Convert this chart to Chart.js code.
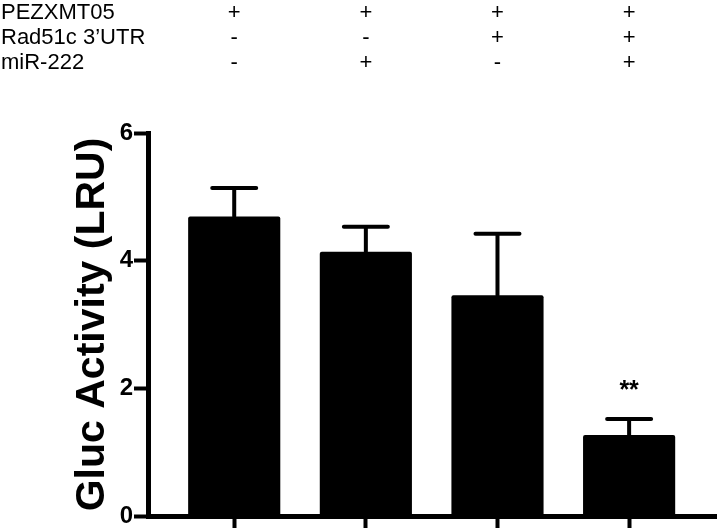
<!DOCTYPE html>
<html>
<head>
<meta charset="utf-8">
<script src="https://cdn.jsdelivr.net/npm/chart.js@4"></script>
<style>
	body { margin: 0; background: #fff; }
	#chart_canvas { display: block; }
</style>
</head>
<body>
<canvas id="chart_canvas" width="720" height="532"></canvas>
<script>
// groups (x positions of bars)
const groups = [0, 1, 2, 3];
const means = [4.69, 4.14, 3.46, 1.27];
const errors = [0.45, 0.39, 0.96, 0.25];
const marks = ['', '', '', '**'];

// treatment table on top
const rowLabels = ['PEZXMT05', 'Rad51c 3\u2019UTR', 'miR-222'];
const rowSigns = [
	['+', '+', '+', '+'],
	['-', '-', '+', '+'],
	['-', '+', '-', '+']
];

const yTicks = [0, 2, 4, 6];

const ctx = document.getElementById('chart_canvas').getContext('2d');

const errorBars = {
	id: 'errorBars',
	afterDatasetsDraw(chart) {
		const c = chart.ctx;
		const y = chart.scales.y;
		const meta = chart.getDatasetMeta(0);
		c.save();
		c.strokeStyle = '#000';
		c.lineWidth = 4;
		c.lineCap = 'round';
		meta.data.forEach((bar, i) => {
			const top = y.getPixelForValue(means[i] + errors[i]);
			c.beginPath();
			c.moveTo(bar.x, bar.y);
			c.lineTo(bar.x, top);
			c.moveTo(bar.x - 22, top);
			c.lineTo(bar.x + 22, top);
			c.stroke();
			if (marks[i]) {
				c.fillStyle = '#000';
				c.font = 'bold 25px "Liberation Sans", Arial, sans-serif';
				c.textAlign = 'center';
				c.textBaseline = 'alphabetic';
				c.fillText(marks[i], bar.x, top - 21);
			}
		});
		c.restore();
	}
};

const topTable = {
	id: 'topTable',
	afterDraw(chart) {
		const c = chart.ctx;
		const x = chart.scales.x;
		c.save();
		c.fillStyle = '#000';
		c.font = '22px "Liberation Sans", Arial, sans-serif';
		c.textBaseline = 'alphabetic';
		rowLabels.forEach((label, r) => {
			const base = 19 + r * 25;
			c.textAlign = 'left';
			c.fillText(label, 1, base);
			c.textAlign = 'center';
			rowSigns[r].forEach((s, i) => {
				c.fillText(s, x.getPixelForValue(groups[i]), base);
			});
		});
		c.restore();
	}
};

const count_chart = new Chart(ctx, {
	type: 'bar',
	data: {
		datasets: [{
			data: groups.map((g, i) => ({ x: g, y: means[i] })),
			backgroundColor: '#000',
			borderColor: '#000',
			borderRadius: 2,
			borderSkipped: 'bottom',
			categoryPercentage: 1,
			barPercentage: 0.7
		}]
	},
	options: {
		responsive: false,
		animation: false,
		layout: { padding: { top: 133, left: 64, right: 4, bottom: 0 } },
		plugins: { legend: { display: false }, tooltip: { enabled: false } },
		scales: {
			x: {
				type: 'linear',
				offset: false,
				min: -0.655,
				max: 3.66,
				afterBuildTicks: (scale) => { scale.ticks = groups.map(v => ({ value: v })); },
				afterFit: (scale) => { scale.height = 16; },
				ticks: { display: false },
				grid: { offset: false, drawOnChartArea: false, drawTicks: true, tickLength: 12, tickWidth: 4, tickColor: '#000' },
				border: { display: true, width: 5, color: '#000' }
			},
			y: {
				min: 0,
				max: 6,
				afterBuildTicks: (scale) => { scale.ticks = yTicks.map(v => ({ value: v })); },
				afterFit: (scale) => { scale.width = 84; },
				ticks: {
					color: '#000',
					padding: 1,
					font: { family: '"Liberation Sans", Arial, sans-serif', size: 24, weight: 'bold' }
				},
				grid: { drawOnChartArea: false, drawTicks: true, tickLength: 14, tickWidth: 4, tickColor: '#000' },
				border: { display: true, width: 5, color: '#000' },
				title: {
					display: true,
					text: 'Gluc Activity (LRU)',
					color: '#000',
					padding: { top: 4, bottom: 0 },
					font: { family: '"Liberation Sans", Arial, sans-serif', size: 41, weight: 'bold' }
				}
			}
		}
	},
	plugins: [errorBars, topTable]
});
</script>
</body>
</html>
